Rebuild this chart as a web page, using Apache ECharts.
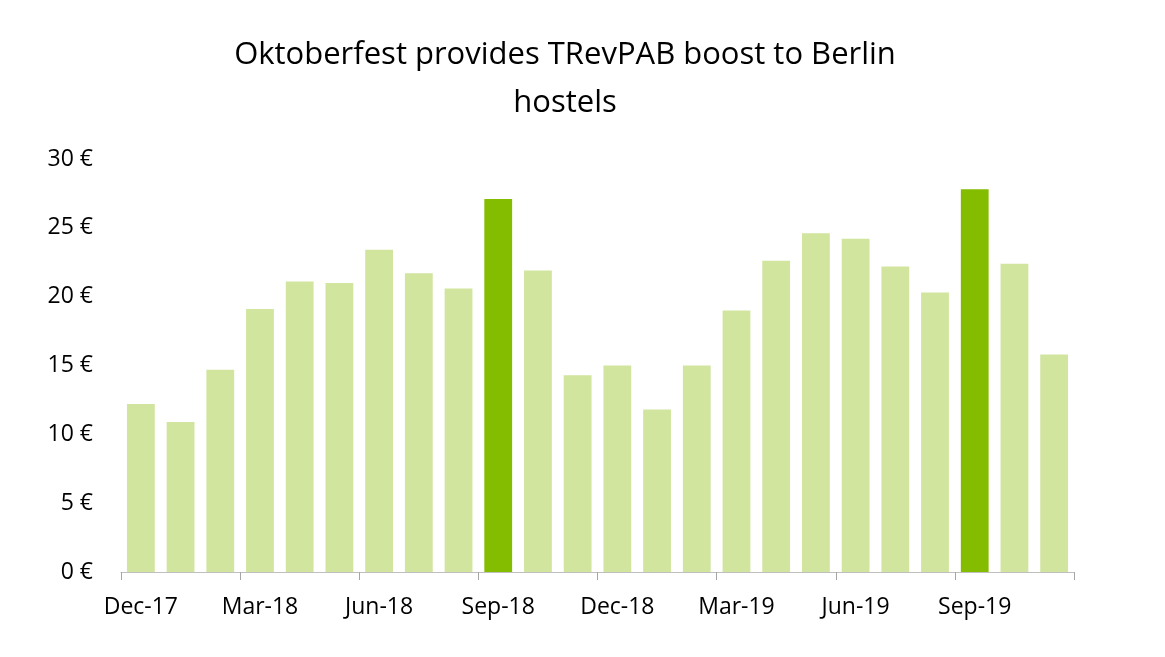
<!DOCTYPE html>
<html><head><meta charset="utf-8">
<script src="https://cdn.jsdelivr.net/npm/echarts@6/dist/echarts.min.js"></script>
<style>html,body{margin:0;padding:0;background:#fff}#c{width:1165px;height:657px}</style>
</head><body><div id="c"></div>
<script>
const categories=['Dec-17','Jan-18','Feb-18','Mar-18','Apr-18','May-18','Jun-18','Jul-18','Aug-18','Sep-18','Oct-18','Nov-18','Dec-18','Jan-19','Feb-19','Mar-19','Apr-19','May-19','Jun-19','Jul-19','Aug-19','Sep-19','Oct-19','Nov-19'];
const values=[12.2,10.9,14.7,19.1,21.1,21.0,23.4,21.7,20.6,27.1,21.9,14.3,15.0,11.8,15.0,19.0,22.6,24.6,24.2,22.2,20.3,27.8,22.4,15.8];
const highlight=['Sep-18','Sep-19'];
const yTicks=[0,5,10,15,20,25,30];
const chart=echarts.init(document.getElementById('c'));
const font='"Open Sans", "Liberation Sans", sans-serif';
chart.setOption({
  animation:false,
  title:{text:'Oktoberfest provides TRevPAB boost to Berlin\nhostels',left:560,top:26,textAlign:'center',
    textStyle:{fontFamily:font,fontWeight:'normal',fontSize:31,lineHeight:48,color:'#000'}},
  grid:{left:121,right:91,top:159,bottom:85},
  xAxis:{type:'category',data:categories,boundaryGap:true,
    axisLine:{lineStyle:{color:'#bfbfbf'}},
    axisTick:{show:true,interval:2,length:8,lineStyle:{color:'#a6a6a6'}},
    axisLabel:{interval:2,fontFamily:font,fontSize:23,color:'#000',margin:24}},
  yAxis:{type:'value',min:yTicks[0],max:yTicks[yTicks.length-1],interval:5,
    splitLine:{show:false},axisLine:{show:false},axisTick:{show:false},
    axisLabel:{formatter:v=>v+' €',fontFamily:font,fontSize:23,color:'#000',margin:28}},
  series:[{type:'bar',barCategoryGap:'30%',
    data:values.map((v,i)=>({value:v,itemStyle:{color:highlight.includes(categories[i])?'#84bc00':'#d1e59e'}}))}]
});
</script></body></html>
